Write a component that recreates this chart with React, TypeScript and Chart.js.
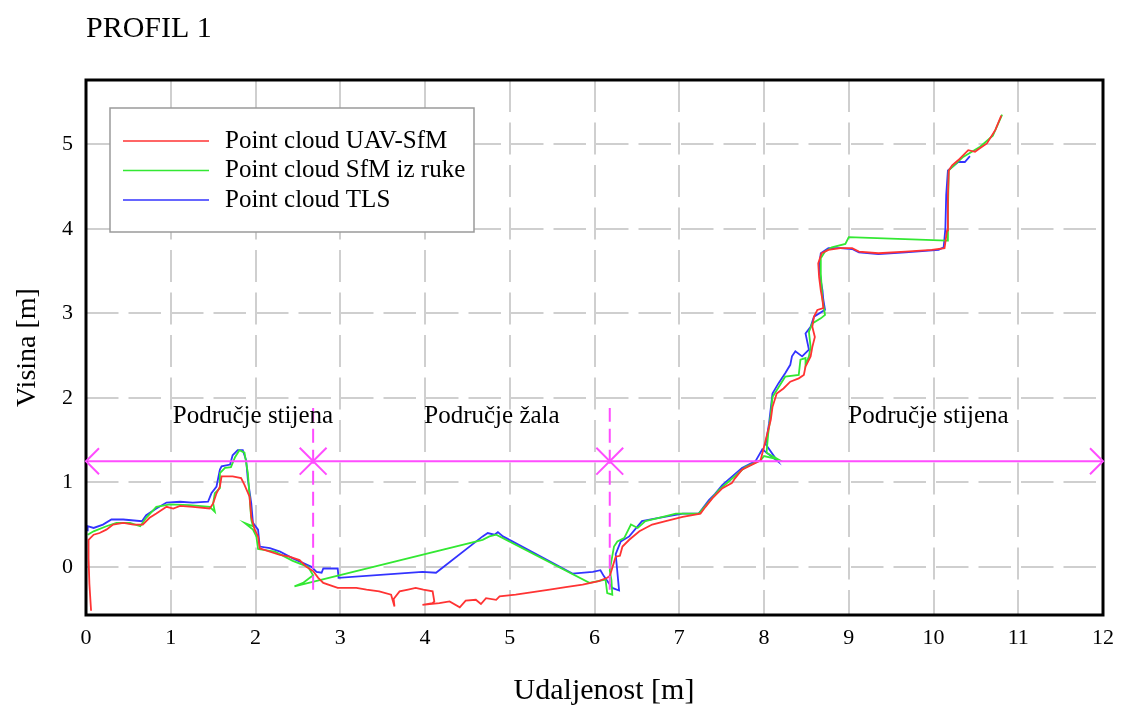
import React, { useEffect, useRef } from "react";
import { Chart, registerables } from "chart.js";

Chart.register(...registerables);

const FONT = '"Liberation Serif", "Times New Roman", serif';

const chartTitle = "PROFIL 1";
const xAxisTitle = "Udaljenost [m]";
const yAxisTitle = "Visina [m]";

const xTicks = [0, 1, 2, 3, 4, 5, 6, 7, 8, 9, 10, 11, 12];
const yTicks = [0, 1, 2, 3, 4, 5];
const xRange = [0, 12];
const yRange = [-0.57, 5.76];

const seriesNames = ["Point cloud UAV-SfM", "Point cloud SfM iz ruke", "Point cloud TLS"];
const seriesColors = ["#ff3333", "#33e833", "#3333ff"];

// Point cloud UAV-SfM (red)
const uavX = [
  0.06, 0.04, 0.03, 0.03, 0.09, 0.16, 0.24, 0.32, 0.44, 0.56,
  0.67, 0.75, 0.83, 0.95, 1.03, 1.11, 1.26, 1.46, 1.5, 1.54,
  1.58, 1.6, 1.73, 1.83, 1.87, 1.93, 1.95, 1.99, 2.03, 2.05,
  2.17, 2.29, 2.4, 2.52, 2.6, 2.68, 2.74, 2.8, 2.97, 3.19,
  3.31, 3.46, 3.6, 3.64, 3.63, 3.7, 3.8, 3.89, 3.98, 4.09,
  4.11, 4.09, 3.97, 4.17, 4.29, 4.41, 4.48, 4.6, 4.66, 4.72,
  4.84, 4.88, 5.07, 5.27, 5.47, 5.66, 5.86, 6.05, 6.15, 6.18,
  6.25, 6.3, 6.33, 6.41, 6.53, 6.68, 6.84, 7.04, 7.25, 7.31,
  7.39, 7.51, 7.62, 7.66, 7.74, 7.9, 7.96, 8.0, 8.04, 8.08,
  8.1, 8.15, 8.23, 8.31, 8.41, 8.47, 8.49, 8.55, 8.57, 8.6,
  8.57, 8.59, 8.63, 8.7, 8.69, 8.67, 8.65, 8.64, 8.68, 8.76,
  8.9, 9.04, 9.12, 9.35, 9.67, 9.98, 10.13, 10.16, 10.17, 10.18,
  10.22, 10.29, 10.41, 10.49, 10.53, 10.63, 10.73, 10.8,
];
const uavY = [
  -0.52, -0.2, 0.1, 0.32, 0.38, 0.4, 0.44, 0.5, 0.52, 0.5,
  0.5, 0.58, 0.63, 0.71, 0.69, 0.72, 0.71, 0.69, 0.75, 0.87,
  0.95, 1.07, 1.07, 1.05, 0.97, 0.83, 0.59, 0.44, 0.36, 0.22,
  0.18, 0.14, 0.12, 0.08, 0.0, -0.05, -0.13, -0.19, -0.25, -0.25,
  -0.27, -0.29, -0.33, -0.47, -0.38, -0.29, -0.27, -0.25, -0.27, -0.29,
  -0.41, -0.43, -0.45, -0.43, -0.41, -0.48, -0.4, -0.39, -0.44, -0.37,
  -0.39, -0.35, -0.33, -0.3, -0.27, -0.24, -0.21, -0.17, -0.13, -0.11,
  0.12, 0.13, 0.24, 0.32, 0.42, 0.5, 0.54, 0.59, 0.63, 0.71,
  0.81, 0.93, 0.99, 1.05, 1.15, 1.23, 1.26, 1.42, 1.58, 1.74,
  1.89, 2.05, 2.11, 2.19, 2.23, 2.27, 2.37, 2.49, 2.6, 2.72,
  2.84, 2.96, 3.04, 3.06, 3.16, 3.27, 3.43, 3.59, 3.71, 3.75,
  3.77, 3.77, 3.73, 3.71, 3.73, 3.75, 3.77, 3.98, 4.38, 4.69,
  4.75, 4.81, 4.93, 4.91, 4.94, 5.01, 5.17, 5.34,
];

// Point cloud SfM iz ruke (green)
const sfmX = [
  0.02, 0.09, 0.24, 0.36, 0.52, 0.64, 0.71, 0.83, 0.99, 1.22,
  1.46, 1.52, 1.5, 1.52, 1.58, 1.58, 1.64, 1.71, 1.76, 1.81,
  1.87, 1.91, 1.93, 1.95, 1.97, 1.87, 1.97, 2.01, 2.03, 2.17,
  2.23, 2.44, 2.62, 2.68, 2.56, 2.46, 4.68, 4.76, 4.84, 5.94,
  6.13, 6.15, 6.21, 6.2, 6.18, 6.23, 6.27, 6.35, 6.43, 6.51,
  6.6, 6.76, 6.96, 7.23, 7.35, 7.47, 7.55, 7.78, 7.96, 8.0,
  8.17, 8.03, 8.05, 8.08, 8.1, 8.25, 8.41, 8.43, 8.49, 8.49,
  8.53, 8.55, 8.53, 8.57, 8.67, 8.72, 8.69, 8.67, 8.67, 8.72,
  8.8, 8.96, 9.0, 10.16, 10.17, 10.18, 10.35, 10.55, 10.7, 10.81,
];
const sfmY = [
  0.38, 0.42, 0.48, 0.52, 0.52, 0.48, 0.58, 0.71, 0.74, 0.73,
  0.71, 0.65, 0.75, 0.87, 0.93, 1.11, 1.17, 1.18, 1.3, 1.38,
  1.35, 1.11, 0.83, 0.56, 0.48, 0.52, 0.44, 0.36, 0.21, 0.19,
  0.18, 0.07, 0.0, -0.1, -0.19, -0.23, 0.32, 0.36, 0.38, -0.19,
  -0.15, -0.31, -0.33, -0.16, -0.04, 0.24, 0.3, 0.34, 0.5, 0.46,
  0.54, 0.58, 0.63, 0.63, 0.77, 0.91, 0.98, 1.18, 1.26, 1.31,
  1.27, 1.35, 1.58, 1.8, 2.01, 2.25, 2.27, 2.45, 2.47, 2.39,
  2.49, 2.6, 2.78, 2.88, 2.94, 2.98, 3.16, 3.47, 3.65, 3.73,
  3.78, 3.82, 3.9, 3.86, 4.2, 4.69, 4.85, 4.97, 5.1, 5.35,
];

// Point cloud TLS (blue)
const tlsX = [
  0.02, 0.02, 0.09, 0.2, 0.3, 0.44, 0.66, 0.71, 0.83, 0.95,
  1.11, 1.26, 1.44, 1.48, 1.54, 1.58, 1.6, 1.7, 1.73, 1.79,
  1.85, 1.89, 1.91, 1.95, 1.97, 2.03, 2.05, 2.17, 2.29, 2.44,
  2.66, 2.72, 2.78, 2.8, 2.97, 2.98, 3.97, 4.13, 4.68, 4.74,
  4.82, 4.86, 4.92, 5.74, 5.98, 6.07, 6.11, 6.21, 6.29, 6.25,
  6.31, 6.41, 6.56, 6.76, 7.04, 7.23, 7.35, 7.42, 7.51, 7.74,
  7.9, 7.98, 8.16, 8.02, 8.06, 8.1, 8.17, 8.25, 8.31, 8.33,
  8.37, 8.45, 8.53, 8.49, 8.55, 8.59, 8.72, 8.7, 8.69, 8.67,
  8.65, 8.67, 8.76, 8.9, 9.04, 9.12, 9.35, 9.67, 10.06, 10.12,
  10.14, 10.15, 10.17, 10.29, 10.37, 10.43,
];
const tlsY = [
  0.42, 0.48, 0.46, 0.5, 0.56, 0.56, 0.54, 0.61, 0.69, 0.76,
  0.77, 0.76, 0.77, 0.87, 0.95, 1.15, 1.19, 1.21, 1.32, 1.38,
  1.38, 1.26, 1.03, 0.75, 0.52, 0.44, 0.24, 0.22, 0.18, 0.1,
  0.0, -0.06, -0.07, -0.02, -0.02, -0.13, -0.06, -0.07, 0.36, 0.4,
  0.38, 0.41, 0.36, -0.08, -0.06, -0.04, -0.11, -0.25, -0.28, 0.15,
  0.3, 0.36, 0.54, 0.58, 0.63, 0.63, 0.79, 0.86, 0.97, 1.17,
  1.25, 1.39, 1.25, 1.45, 1.7, 2.05, 2.17, 2.29, 2.39, 2.49,
  2.55, 2.49, 2.57, 2.76, 2.84, 2.96, 3.04, 3.16, 3.27, 3.39,
  3.55, 3.71, 3.77, 3.77, 3.76, 3.72, 3.7, 3.72, 3.75, 3.78,
  4.0, 4.4, 4.69, 4.79, 4.79, 4.86,
];

// Zone annotations
const zoneLineX = [0, 12];
const zoneLineY = [1.25, 1.25];
const boundaryX = [2.68, 6.18];
const boundaryYRange = [-0.27, 1.88];
const zoneLabels = ["Područje stijena", "Područje žala", "Područje stijena"];
const zoneLabelX = [1.97, 4.79, 9.94];
const zoneLabelY = 1.78;

const MAGENTA = "#ff4dff";

const pairs = (xs: number[], ys: number[]) => xs.map((x, i) => ({ x, y: ys[i] }));

const decorPlugin = {
  id: "decor",
  afterDatasetsDraw(chart: any) {
    const { ctx, chartArea } = chart;
    const xs = chart.scales.x;
    const ys = chart.scales.y;
    const { left, right, top, bottom } = chartArea;
    ctx.save();

    // zone labels
    ctx.fillStyle = "#000";
    ctx.font = `25px ${FONT}`;
    ctx.textAlign = "center";
    ctx.textBaseline = "middle";
    zoneLabels.forEach((t, i) => {
      ctx.fillText(t, xs.getPixelForValue(zoneLabelX[i]), ys.getPixelForValue(zoneLabelY));
    });

    // frame
    ctx.strokeStyle = "#000";
    ctx.lineWidth = 3;
    ctx.strokeRect(left, top, right - left, bottom - top);

    // arrowheads
    ctx.strokeStyle = MAGENTA;
    ctx.lineWidth = 2;
    const ay = ys.getPixelForValue(zoneLineY[0]);
    const ax0 = xs.getPixelForValue(zoneLineX[0]);
    const ax1 = xs.getPixelForValue(zoneLineX[1]);
    ctx.beginPath();
    ctx.moveTo(ax0 + 13, ay - 13);
    ctx.lineTo(ax0, ay);
    ctx.lineTo(ax0 + 13, ay + 13);
    ctx.moveTo(ax1 - 13, ay - 13);
    ctx.lineTo(ax1, ay);
    ctx.lineTo(ax1 - 13, ay + 13);
    ctx.stroke();

    // legend
    const lx = left + 24;
    const ly = top + 28;
    const lw = 364;
    const lh = 124;
    ctx.fillStyle = "#fff";
    ctx.fillRect(lx, ly, lw, lh);
    ctx.strokeStyle = "#9a9a9a";
    ctx.lineWidth = 1.5;
    ctx.strokeRect(lx, ly, lw, lh);
    ctx.font = `25px ${FONT}`;
    ctx.textAlign = "left";
    ctx.textBaseline = "middle";
    seriesNames.forEach((name, i) => {
      const yy = ly + 33 + i * 29.5;
      ctx.strokeStyle = seriesColors[i];
      ctx.lineWidth = 1.6;
      ctx.beginPath();
      ctx.moveTo(lx + 13, yy);
      ctx.lineTo(lx + 99, yy);
      ctx.stroke();
      ctx.fillStyle = "#000";
      ctx.fillText(name, lx + 115, yy);
    });
    ctx.restore();
  },
  afterDraw(chart: any) {
    const { ctx, chartArea } = chart;
    ctx.save();
    ctx.fillStyle = "#000";
    ctx.textBaseline = "alphabetic";
    ctx.font = `30px ${FONT}`;
    ctx.textAlign = "left";
    ctx.fillText(chartTitle, 86, 37);
    ctx.textAlign = "center";
    ctx.font = `30px ${FONT}`;
    ctx.fillText(xAxisTitle, 604, 699);
    ctx.translate(35, (chartArea.top + chartArea.bottom) / 2);
    ctx.rotate(-Math.PI / 2);
    ctx.font = `28px ${FONT}`;
    ctx.fillText(yAxisTitle, 0, 0);
    ctx.restore();
  },
};

export default function App() {
  const ref = useRef<HTMLCanvasElement | null>(null);
  useEffect(() => {
    if (!ref.current) return;
    const lineDs = (label: string, data: any[], color: string) => ({
      label,
      data,
      borderColor: color,
      backgroundColor: color,
      borderWidth: 1.8,
      pointRadius: 0,
      showLine: true,
      tension: 0,
      fill: false,
    });
    const chart = new Chart(ref.current, {
      type: "scatter",
      data: {
        datasets: [
          { ...lineDs("zone", pairs(zoneLineX, zoneLineY), MAGENTA), borderWidth: 2 },
          {
            ...lineDs("b1", pairs([boundaryX[0], boundaryX[0]], boundaryYRange), MAGENTA),
            borderWidth: 2,
            borderDash: [14, 7],
          },
          {
            ...lineDs("b2", pairs([boundaryX[1], boundaryX[1]], boundaryYRange), MAGENTA),
            borderWidth: 2,
            borderDash: [14, 7],
          },
          {
            label: "marks",
            data: pairs(boundaryX, [zoneLineY[0], zoneLineY[0]]),
            showLine: false,
            pointStyle: "crossRot",
            pointRadius: 19,
            borderColor: MAGENTA,
            backgroundColor: MAGENTA,
            pointBorderWidth: 2,
          },
          lineDs(seriesNames[0], pairs(uavX, uavY), seriesColors[0]),
          lineDs(seriesNames[1], pairs(sfmX, sfmY), seriesColors[1]),
          lineDs(seriesNames[2], pairs(tlsX, tlsY), seriesColors[2]),
        ] as any,
      },
      options: {
        responsive: false,
        animation: false,
        devicePixelRatio: 1,
        layout: { padding: { top: 80, right: 19, left: 0, bottom: 0 } },
        plugins: { legend: { display: false }, tooltip: { enabled: false }, title: { display: false } },
        scales: {
          x: {
            type: "linear",
            min: xRange[0],
            max: xRange[1],
            afterBuildTicks: (s: any) => {
              s.ticks = xTicks.map((v) => ({ value: v }));
            },
            afterFit: (s: any) => {
              s.height = 91;
            },
            ticks: {
              autoSkip: false,
              maxRotation: 0,
              padding: 10,
              color: "#000",
              font: { family: FONT, size: 22 },
              callback: (v: any) => String(v),
            },
            grid: { color: "#cfcfcf", lineWidth: 2, drawTicks: false },
            border: { display: false, dash: [32, 10.5] },
          },
          y: {
            type: "linear",
            min: yRange[0],
            max: yRange[1],
            afterBuildTicks: (s: any) => {
              s.ticks = yTicks.map((v) => ({ value: v }));
            },
            afterFit: (s: any) => {
              s.width = 86;
            },
            ticks: {
              padding: 13,
              color: "#000",
              font: { family: FONT, size: 22 },
              callback: (v: any) => String(v),
            },
            grid: { color: "#cfcfcf", lineWidth: 2, drawTicks: false },
            border: { display: false, dash: [32.5, 10] },
          },
        },
      } as any,
      plugins: [decorPlugin],
    });
    return () => chart.destroy();
  }, []);
  return (
    <div style={{ position: "absolute", left: 0, top: 0, width: 1124, height: 706 }}>
      <canvas ref={ref} width={1124} height={706} style={{ display: "block" }} />
    </div>
  );
}
